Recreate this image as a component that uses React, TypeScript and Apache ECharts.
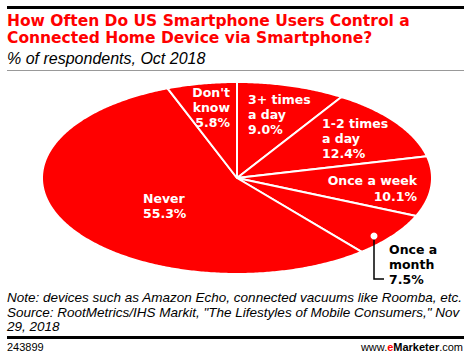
import React, { useEffect, useRef } from "react";
import * as echarts from "echarts";

const categories = ["3+ times a day", "1-2 times a day", "Once a week", "Once a month", "Never", "Don't know"];
const values = [9.0, 12.4, 10.1, 7.5, 55.3, 5.8];
const labelTexts = ["3+ times\na day\n9.0%", "1-2 times\na day\n12.4%", "Once a week\n10.1%", "Once a\nmonth\n7.5%", "Never\n55.3%", "Don't\nknow\n5.8%"];

const RED = "#ff0000";
const CX = 237;
const CY = 178;
const RX = 195;
const RY = 96;

export default function App() {
  const ref = useRef<HTMLDivElement>(null);
  useEffect(() => {
    if (!ref.current) return;
    const chart = echarts.init(ref.current, null, { renderer: "svg" });
    const total = values.reduce((a, b) => a + b, 0);
    const starts: number[] = [];
    let acc = 0;
    values.forEach((v) => {
      starts.push(acc);
      acc += v;
    });
    const pt = (th: number) => [CX + RX * Math.sin(th), CY - RY * Math.cos(th)];

    const labelFont = "bold 12.5px 'DejaVu Sans'";
    const lbl = (text: string, x: number, y: number, align: string, fill = "#fff", lh = 15) => ({
      type: "text",
      x,
      y,
      silent: true,
      z: 100,
      style: { text, fill, font: labelFont, textAlign: align, textVerticalAlign: "top", lineHeight: lh },
    });

    const option: any = {
      animation: false,
      backgroundColor: "#fff",
      series: [
        {
          type: "custom",
          coordinateSystem: "none",
          data: values.map((v, i) => ({ name: categories[i], value: v })),
          renderItem: (params: any, api: any) => {
            const i = params.dataIndex;
            const v = api.value(0);
            const a0 = (starts[i] / total) * Math.PI * 2;
            const a1 = a0 + (v / total) * Math.PI * 2;
            const pts: number[][] = [[CX, CY]];
            const n = Math.max(8, Math.ceil((a1 - a0) / 0.01));
            for (let k = 0; k <= n; k++) pts.push(pt(a0 + ((a1 - a0) * k) / n));
            return {
              type: "polygon",
              shape: { points: pts },
              style: { fill: RED, stroke: "#fff", lineWidth: 2, lineJoin: "round" },
            };
          },
        },
      ],
      graphic: [
        { type: "rect", shape: { x: 7, y: 6, width: 457, height: 3 }, style: { fill: "#000" } },
        {
          type: "text",
          x: 7,
          y: 12,
          style: {
            text: "How Often Do US Smartphone Users Control a\nConnected Home Device via Smartphone?",
            fill: "#ff0000",
            font: "bold 15.5px 'DejaVu Sans'",
            lineHeight: 17,
            textVerticalAlign: "top",
          },
        },
        {
          type: "text",
          x: 7,
          y: 50,
          style: { text: "% of respondents, Oct 2018", fill: "#000", font: "italic 16px 'Liberation Sans'", textVerticalAlign: "top" },
        },
        { type: "rect", shape: { x: 7, y: 70, width: 457, height: 1 }, style: { fill: "#999" } },
        lbl(labelTexts[5], 230, 84.5, "right"),
        lbl(labelTexts[0], 248, 91.5, "left"),
        lbl(labelTexts[1], 322, 115.5, "left"),
        lbl(labelTexts[2], 417, 172, "right", "#fff", 16),
        lbl(labelTexts[4], 143, 190.5, "left"),
        lbl(labelTexts[3], 389, 241.5, "left", "#000", 15),
        { type: "polyline", shape: { points: [[374, 238], [374, 279], [384, 279]] }, style: { stroke: "#000", lineWidth: 1.5, fill: null }, z: 50 },
        { type: "circle", shape: { cx: 374, cy: 236, r: 3.5 }, style: { fill: "#fff" }, z: 60 },
        {
          type: "text",
          x: 7,
          y: 290.5,
          style: {
            text: 'Note: devices such as Amazon Echo, connected vacuums like Roomba, etc.\nSource: RootMetrics/IHS Markit, "The Lifestyles of Mobile Consumers," Nov\n29, 2018',
            fill: "#000",
            font: "italic 13.5px 'Liberation Sans'",
            lineHeight: 14.5,
            textVerticalAlign: "top",
          },
        },
        { type: "rect", shape: { x: 7, y: 336, width: 457, height: 3 }, style: { fill: "#000" } },
        {
          type: "text",
          x: 7,
          y: 347,
          style: { text: "243899", fill: "#000", font: "11px 'Liberation Sans'", textVerticalAlign: "middle" },
        },
        {
          type: "text",
          x: 463,
          y: 347,
          style: {
            text: "{a|www.}{b|e}{c|Marketer}{a|.com}",
            textAlign: "right",
            textVerticalAlign: "middle",
            rich: {
              a: { fill: "#000", font: "11px 'Liberation Sans'" },
              b: { fill: "#ff0000", font: "bold 11px 'Liberation Sans'" },
              c: { fill: "#000", font: "bold 11px 'Liberation Sans'" },
            },
          },
        },
      ],
    };
    chart.setOption(option);
    return () => chart.dispose();
  }, []);
  return <div ref={ref} style={{ position: "fixed", left: 0, top: 0, width: 470, height: 358 }} />;
}
